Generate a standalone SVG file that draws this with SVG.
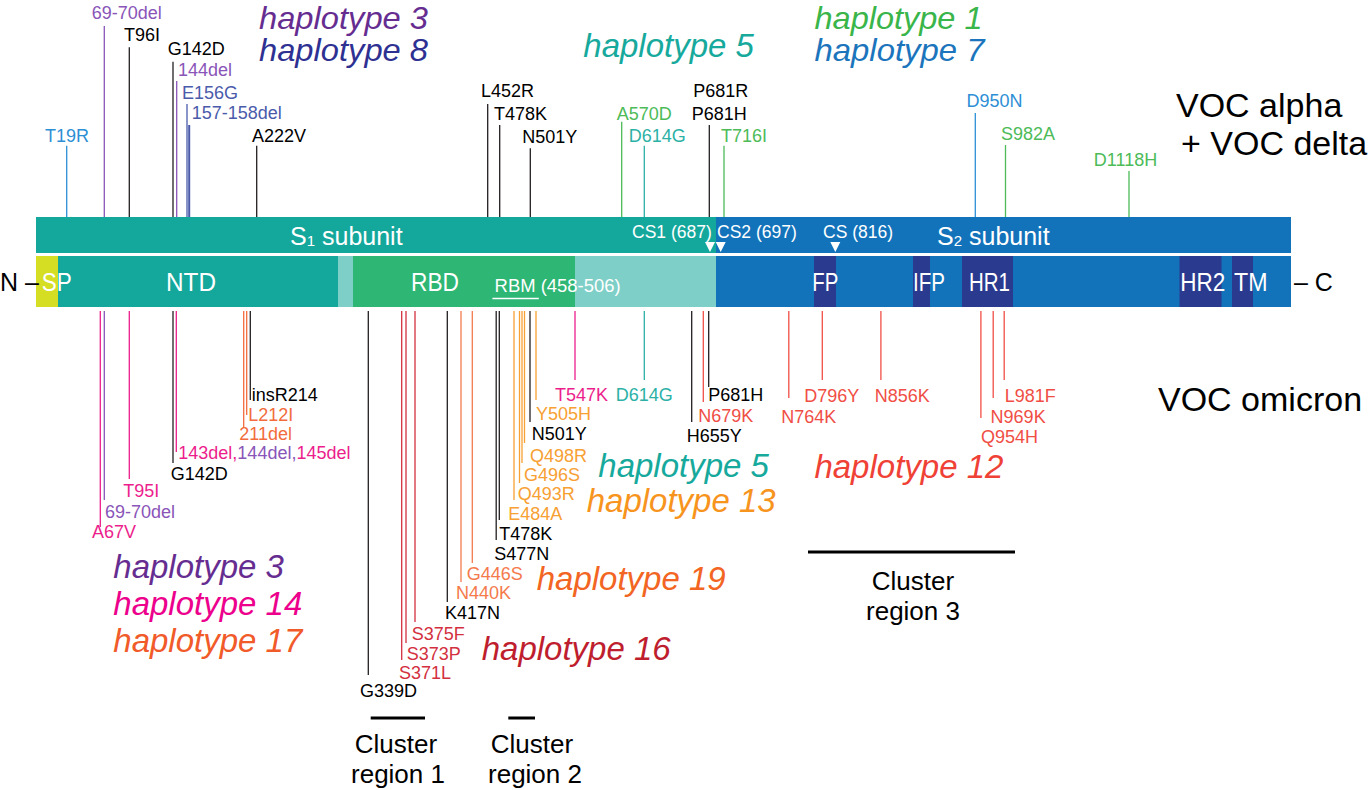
<svg xmlns="http://www.w3.org/2000/svg" width="1370" height="790" viewBox="0 0 1370 790">
<style>
text{font-family:"Liberation Sans",Arial,sans-serif;}
.m{font-size:18px;}
.h{font-size:33px;font-style:italic;}
.ht{font-size:32px;}
.voc{font-size:34px;fill:#000;}
.cl{font-size:26px;text-anchor:middle;fill:#000;}
.d{font-size:25px;fill:#fff;}
.cs{font-size:17.5px;fill:#fff;}
line{stroke-width:1.3;fill:none;}
.k{fill:#000;} line.k{stroke:#231f20;}
.bl{fill:#2d8fd5;} line.bl{stroke:#2d8fd5;}
.pu{fill:#8a55b8;} line.pu{stroke:#8a55b8;}
.nv{fill:#4a5bab;} line.nv{stroke:#4a5bab;}
.gr{fill:#4cbb58;} line.gr{stroke:#4cbb58;}
.tl{fill:#2bb1a6;} line.tl{stroke:#2bb1a6;}
.mg{fill:#ec1e8c;} line.mg{stroke:#ec1e8c;}
.or{fill:#f26c3c;} line.or{stroke:#f26c3c;}
.cr{fill:#d32f3e;} line.cr{stroke:#d32f3e;}
.o2{fill:#f47a4c;} line.o2{stroke:#f47a4c;}
.am{fill:#f7a033;} line.am{stroke:#f7a033;}
.rd{fill:#f04e45;} line.rd{stroke:#f04e45;}
line.bar{stroke:#000;stroke-width:3;}
</style>
<rect width="1370" height="790" fill="#fff"/>

<g id="protein">
  <g id="subunit-bar">
    <rect x="36" y="217" width="680" height="36" fill="#14a89d"/>
    <rect x="716" y="217" width="575" height="36" fill="#1273bb"/>
    <text class="d" x="290" y="245">S<tspan font-size="15" dy="1">1</tspan><tspan dy="-1"> subunit</tspan></text>
    <text class="d" x="937" y="245">S<tspan font-size="15" dy="1">2</tspan><tspan dy="-1"> subunit</tspan></text>
    <text class="cs" x="632" y="238">CS1 (687)</text>
    <text class="cs" x="717" y="238">CS2 (697)</text>
    <text class="cs" x="823" y="238">CS (816)</text>
    <polygon points="705,242 715,242 710,252" fill="#fff"/>
    <polygon points="715.7,242 725.7,242 720.7,252" fill="#fff"/>
    <polygon points="830.3,242 840.3,242 835.3,252" fill="#fff"/>
  </g>
  <g id="domain-bar">
    <rect x="36" y="256" width="1255" height="51" fill="#1273bb"/>
    <rect x="36" y="256" width="22" height="51" fill="#d6de23"/>
    <rect x="58" y="256" width="280" height="51" fill="#14a89d"/>
    <rect x="338" y="256" width="15" height="51" fill="#7ecfc7"/>
    <rect x="353" y="256" width="222" height="51" fill="#2db674"/>
    <rect x="575" y="256" width="141" height="51" fill="#7ecfc7"/>
    <rect x="814" y="256" width="22" height="51" fill="#2a3a8f"/>
    <rect x="913" y="256" width="17" height="51" fill="#2a3a8f"/>
    <rect x="962" y="256" width="51" height="51" fill="#2a3a8f"/>
    <rect x="1179.5" y="256" width="42" height="51" fill="#2a3a8f"/>
    <rect x="1232" y="256" width="21" height="51" fill="#2a3a8f"/>
    <text class="d" x="41.7" y="291" textLength="30" lengthAdjust="spacingAndGlyphs">SP</text>
    <text class="d" x="166" y="291" textLength="50" lengthAdjust="spacingAndGlyphs">NTD</text>
    <text class="d" x="411" y="291" textLength="48" lengthAdjust="spacingAndGlyphs">RBD</text>
    <text x="494.6" y="292" font-size="18" fill="#fff" textLength="126" lengthAdjust="spacingAndGlyphs">RBM (458-506)</text>
    <line x1="492.4" y1="298.5" x2="538.8" y2="298.5" stroke="#fff" stroke-width="1.6"/>
    <text class="d" x="812.3" y="291" textLength="26" lengthAdjust="spacingAndGlyphs">FP</text>
    <text class="d" x="913" y="291" textLength="32" lengthAdjust="spacingAndGlyphs">IFP</text>
    <text class="d" x="969" y="291" textLength="41" lengthAdjust="spacingAndGlyphs">HR1</text>
    <text class="d" x="1180.3" y="291" textLength="45" lengthAdjust="spacingAndGlyphs">HR2</text>
    <text class="d" x="1234" y="291" textLength="33.5" lengthAdjust="spacingAndGlyphs">TM</text>
  </g>
  <text id="n-term" x="0" y="291" font-size="25" fill="#000">N –</text>
  <text id="c-term" x="1294" y="291" font-size="25" fill="#000">– C</text>
</g>

<g id="connectors">
  <!-- top (alpha + delta) -->
  <line class="bl" x1="66.7" y1="145.7" x2="66.7" y2="217"/>
  <line class="pu" x1="104.3" y1="26" x2="104.3" y2="217"/>
  <line class="k" x1="129.3" y1="47.3" x2="129.3" y2="217"/>
  <line class="k" x1="173" y1="61.7" x2="173" y2="217"/>
  <line class="pu" x1="176.7" y1="81" x2="176.7" y2="217"/>
  <line class="nv" x1="187" y1="104" x2="187" y2="217"/>
  <line class="nv" x1="189.2" y1="125" x2="189.2" y2="217" style="stroke-width:2"/>
  <line class="k" x1="256.7" y1="145.7" x2="256.7" y2="217"/>
  <line class="k" x1="487.7" y1="104" x2="487.7" y2="217"/>
  <line class="k" x1="499.7" y1="125" x2="499.7" y2="217"/>
  <line class="k" x1="530.3" y1="148.3" x2="530.3" y2="217"/>
  <line class="gr" x1="621.7" y1="121.7" x2="621.7" y2="217"/>
  <line class="tl" x1="644.3" y1="145.7" x2="644.3" y2="217"/>
  <line class="k" x1="709.3" y1="125" x2="709.3" y2="217"/>
  <line class="gr" x1="724" y1="145.7" x2="724" y2="217"/>
  <line class="bl" x1="975.3" y1="113" x2="975.3" y2="217"/>
  <line class="gr" x1="1005.5" y1="145" x2="1005.5" y2="217"/>
  <line class="gr" x1="1129" y1="171" x2="1129" y2="217"/>
  <!-- bottom (omicron) -->
  <line class="mg" x1="100.3" y1="311" x2="100.3" y2="527"/>
  <line class="pu" x1="104.3" y1="311" x2="104.3" y2="500"/>
  <line class="mg" x1="129.3" y1="311" x2="129.3" y2="479"/>
  <line class="k" x1="173" y1="311" x2="173" y2="463"/>
  <line class="mg" x1="176.3" y1="311" x2="176.3" y2="452"/>
  <line class="or" x1="243.7" y1="311" x2="243.7" y2="428"/>
  <line class="or" x1="246.7" y1="311" x2="246.7" y2="415"/>
  <line class="k" x1="250.3" y1="311" x2="250.3" y2="400"/>
  <line class="k" x1="368.3" y1="311" x2="368.3" y2="675"/>
  <line class="cr" x1="401.7" y1="311" x2="401.7" y2="660"/>
  <line class="cr" x1="406" y1="311" x2="406" y2="643"/>
  <line class="cr" x1="415" y1="311" x2="415" y2="622"/>
  <line class="k" x1="447.3" y1="311" x2="447.3" y2="602"/>
  <line class="o2" x1="461" y1="311" x2="461" y2="582"/>
  <line class="o2" x1="472.3" y1="311" x2="472.3" y2="563"/>
  <line class="k" x1="496.2" y1="311" x2="496.2" y2="540"/>
  <line class="k" x1="499.3" y1="311" x2="499.3" y2="520"/>
  <line class="am" x1="514" y1="311" x2="514" y2="500"/>
  <line class="am" x1="519.5" y1="311" x2="519.5" y2="483"/>
  <line class="am" x1="522" y1="311" x2="522" y2="463"/>
  <line class="am" x1="524.5" y1="311" x2="524.5" y2="443"/>
  <line class="k" x1="530" y1="311" x2="530" y2="422"/>
  <line class="am" x1="536" y1="311" x2="536" y2="400"/>
  <line class="mg" x1="575" y1="311" x2="575" y2="380"/>
  <line class="tl" x1="644.3" y1="311" x2="644.3" y2="380"/>
  <line class="k" x1="691.7" y1="311" x2="691.7" y2="422"/>
  <line class="rd" x1="703.3" y1="311" x2="703.3" y2="402"/>
  <line class="k" x1="708.7" y1="311" x2="708.7" y2="387"/>
  <line class="rd" x1="788.8" y1="311" x2="788.8" y2="398"/>
  <line class="rd" x1="822.3" y1="311" x2="822.3" y2="380"/>
  <line class="rd" x1="880.9" y1="311" x2="880.9" y2="380"/>
  <line class="rd" x1="980.9" y1="311" x2="980.9" y2="418"/>
  <line class="rd" x1="993.2" y1="311" x2="993.2" y2="398"/>
  <line class="rd" x1="1004.2" y1="311" x2="1004.2" y2="380"/>
  <!-- cluster bars -->
  <line class="bar" x1="370.7" y1="718" x2="425" y2="718"/>
  <line class="bar" x1="508.3" y1="718" x2="535" y2="718"/>
  <line class="bar" x1="808" y1="552" x2="1015" y2="552"/>
</g>

<g id="top-labels" class="m">
  <text class="bl" x="45" y="141.7">T19R</text>
  <text class="pu" x="91.7" y="19">69-70del</text>
  <text class="k" x="124" y="40.7">T96I</text>
  <text class="k" x="167.7" y="55">G142D</text>
  <text class="pu" x="178" y="76">144del</text>
  <text class="nv" x="182" y="99">E156G</text>
  <text class="nv" x="191.7" y="119.3">157-158del</text>
  <text class="k" x="252" y="141.7">A222V</text>
  <text class="k" x="481" y="97.3">L452R</text>
  <text class="k" x="494" y="120">T478K</text>
  <text class="k" x="522.3" y="142.7">N501Y</text>
  <text class="gr" x="616.7" y="120">A570D</text>
  <text class="tl" x="628.7" y="141.7">D614G</text>
  <text class="k" x="693.3" y="97.3">P681R</text>
  <text class="k" x="691.7" y="120">P681H</text>
  <text class="gr" x="721" y="141.7">T716I</text>
  <text class="bl" x="966.5" y="107">D950N</text>
  <text class="gr" x="1001" y="140">S982A</text>
  <text class="gr" x="1093.8" y="166">D1118H</text>
</g>

<g id="bottom-labels" class="m">
  <text class="mg" x="92" y="538">A67V</text>
  <text class="pu" x="105" y="518">69-70del</text>
  <text class="mg" x="123.3" y="497">T95I</text>
  <text class="k" x="170.7" y="480">G142D</text>
  <text x="178.3" y="459"><tspan class="mg">143del,</tspan><tspan class="pu">144del,</tspan><tspan class="mg">145del</tspan></text>
  <text class="or" x="239.3" y="440">211del</text>
  <text class="or" x="248.3" y="420.7">L212I</text>
  <text class="k" x="251.7" y="400.7">insR214</text>
  <text class="k" x="360" y="697.3">G339D</text>
  <text class="cr" x="399" y="679.3">S371L</text>
  <text class="cr" x="406.7" y="660">S373P</text>
  <text class="cr" x="411.7" y="640">S375F</text>
  <text class="k" x="445" y="619.3">K417N</text>
  <text class="o2" x="456" y="599.3">N440K</text>
  <text class="o2" x="466.7" y="580">G446S</text>
  <text class="k" x="494.3" y="560">S477N</text>
  <text class="k" x="499.3" y="540">T478K</text>
  <text class="am" x="508.3" y="520">E484A</text>
  <text class="am" x="517.7" y="500">Q493R</text>
  <text class="am" x="524" y="481">G496S</text>
  <text class="am" x="530" y="461.7">Q498R</text>
  <text class="k" x="531.7" y="440">N501Y</text>
  <text class="am" x="536" y="420">Y505H</text>
  <text class="mg" x="555" y="400.7">T547K</text>
  <text class="tl" x="615.7" y="400.7">D614G</text>
  <text class="k" x="686.7" y="441.7">H655Y</text>
  <text class="rd" x="698.3" y="421.7">N679K</text>
  <text class="k" x="708.3" y="400.7">P681H</text>
  <text class="rd" x="781.3" y="423.3">N764K</text>
  <text class="rd" x="804.2" y="401.7">D796Y</text>
  <text class="rd" x="874.7" y="401.7">N856K</text>
  <text class="rd" x="980.9" y="443.3">Q954H</text>
  <text class="rd" x="990.6" y="423.3">N969K</text>
  <text class="rd" x="1004.7" y="401.7">L981F</text>
</g>

<g id="haplotypes" class="h">
  <text class="ht" x="259" y="29" fill="#662d91" textLength="169" lengthAdjust="spacingAndGlyphs">haplotype 3</text>
  <text class="ht" x="259" y="61" fill="#2e3192" textLength="169" lengthAdjust="spacingAndGlyphs">haplotype 8</text>
  <text x="583.3" y="57" fill="#16a99c">haplotype 5</text>
  <text class="ht" x="814.5" y="29" fill="#39b54a" textLength="168" lengthAdjust="spacingAndGlyphs">haplotype 1</text>
  <text class="ht" x="814.5" y="61" fill="#1c75bc" textLength="170" lengthAdjust="spacingAndGlyphs">haplotype 7</text>
  <text x="113.3" y="578.3" fill="#662d91">haplotype 3</text>
  <text x="113.3" y="615" fill="#ec008c">haplotype 14</text>
  <text x="113.3" y="651.7" fill="#f15a29">haplotype 17</text>
  <text x="598.3" y="476.7" fill="#16a99c">haplotype 5</text>
  <text x="586.7" y="511.7" fill="#f7941d">haplotype 13</text>
  <text x="814.4" y="478.3" fill="#ef4136">haplotype 12</text>
  <text x="536.7" y="590" fill="#f26522">haplotype 19</text>
  <text x="481.7" y="660" fill="#be1e2d">haplotype 16</text>
</g>

<g id="variants">
  <text class="voc" x="1176" y="117">VOC alpha</text>
  <text class="voc" x="1181" y="155">+ VOC delta</text>
  <text class="voc" x="1158" y="411">VOC omicron</text>
</g>

<g id="clusters">
  <g id="cluster-1"><text class="cl" x="396" y="753">Cluster</text><text class="cl" x="398" y="783">region 1</text></g>
  <g id="cluster-2"><text class="cl" x="532" y="753">Cluster</text><text class="cl" x="535" y="783">region 2</text></g>
  <g id="cluster-3"><text class="cl" x="913" y="590">Cluster</text><text class="cl" x="913" y="620">region 3</text></g>
</g>
</svg>
